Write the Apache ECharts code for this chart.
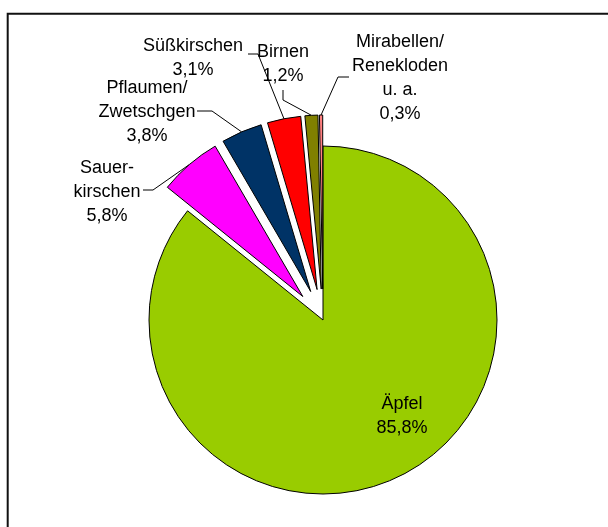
<!DOCTYPE html>
<html>
<head>
<meta charset="utf-8">
<script src="https://cdn.jsdelivr.net/npm/echarts@6/dist/echarts.min.js"></script>
<style>
    html, body { margin: 0; padding: 0; background: #fff; }
    #chart { width: 608px; height: 527px; }
</style>
</head>
<body>
<div id="chart"></div>
<script>
var names = ['Äpfel', 'Sauerkirschen', 'Pflaumen/Zwetschgen', 'Süßkirschen', 'Birnen', 'Mirabellen/Renekloden u. a.'];
var labelNames = ['Äpfel', 'Sauer-\nkirschen', 'Pflaumen/\nZwetschgen', 'Süßkirschen', 'Birnen', 'Mirabellen/\nRenekloden\nu. a.'];
var shares = [85.8, 5.8, 3.8, 3.1, 1.2, 0.3];
var colors = ['#99cc00', '#ff00ff', '#003366', '#ff0000', '#808000', '#ff8080'];

// label text centres and leader line bends, as placed in the original
var labelSpots = [[402, 416], [107, 192], [147, 112], [193, 58], [283, 64], [400, 78]];
var lineBends = [null, [[153, 190], [143, 190]], [[212, 111], [197, 111]], [[258, 54], [248, 54]], [[283, 100], [283, 90]], [[338, 77], [349, 77]]];

var pieCenter = [323, 320];
var pieRadius = 174;
var explode = 31;

var sliceData = [];
var labelData = [];
for (var i = 0; i < shares.length; i++) {
    sliceData.push({
        name: names[i],
        value: shares[i],
        selected: i > 0,
        itemStyle: { color: colors[i] }
    });
    labelData.push({
        name: names[i],
        value: shares[i],
        label: i === 0 ? { position: 'inside' } : {},
        labelLine: { show: i > 0 }
    });
}

var mychart = echarts.init(document.getElementById('chart'));
var option = {
    animation: false,
    backgroundColor: '#fff',
    graphic: [{
        type: 'rect',
        shape: { x: 7.7, y: 13.7, width: 700, height: 600 },
        style: { fill: 'none', stroke: '#111', lineWidth: 2 },
        silent: true
    }],
    series: [{
        // the slices, all but Äpfel pulled out
        type: 'pie',
        center: pieCenter,
        radius: pieRadius,
        startAngle: 90,
        clockwise: true,
        selectedMode: 'multiple',
        selectedOffset: explode,
        emphasis: { disabled: true },
        itemStyle: { borderColor: '#000', borderWidth: 1 },
        select: { itemStyle: { borderColor: '#000', borderWidth: 1 } },
        label: { show: false },
        labelLine: { show: false },
        data: sliceData
    }, {
        // same pie, invisible, only carries the labels
        type: 'pie',
        silent: true,
        center: pieCenter,
        radius: pieRadius,
        startAngle: 90,
        clockwise: true,
        avoidLabelOverlap: false,
        emphasis: { disabled: true },
        itemStyle: { color: 'rgba(0,0,0,0)', borderWidth: 0 },
        label: {
            show: true,
            position: 'outside',
            color: '#000',
            fontFamily: '"Liberation Sans", Arial, sans-serif',
            fontSize: 18,
            lineHeight: 24,
            align: 'center',
            formatter: function (p) {
                return labelNames[p.dataIndex] + '\n' + p.value.toFixed(1).replace('.', ',') + '%';
            }
        },
        labelLine: {
            show: true,
            lineStyle: { color: '#000', width: 1 }
        },
        labelLayout: function (p) {
            var i = p.dataIndex;
            var out = { x: labelSpots[i][0], y: labelSpots[i][1], align: 'center', verticalAlign: 'middle' };
            if (lineBends[i] && p.labelLinePoints) {
                // start on the arc of the pulled-out slice
                var s = p.labelLinePoints[0];
                var dx = s[0] - pieCenter[0], dy = s[1] - pieCenter[1];
                var len = Math.sqrt(dx * dx + dy * dy);
                var start = [s[0] + dx / len * explode, s[1] + dy / len * explode];
                out.labelLinePoints = [start].concat(lineBends[i]);
            }
            return out;
        },
        data: labelData
    }]
};
mychart.setOption(option);
</script>
</body>
</html>
